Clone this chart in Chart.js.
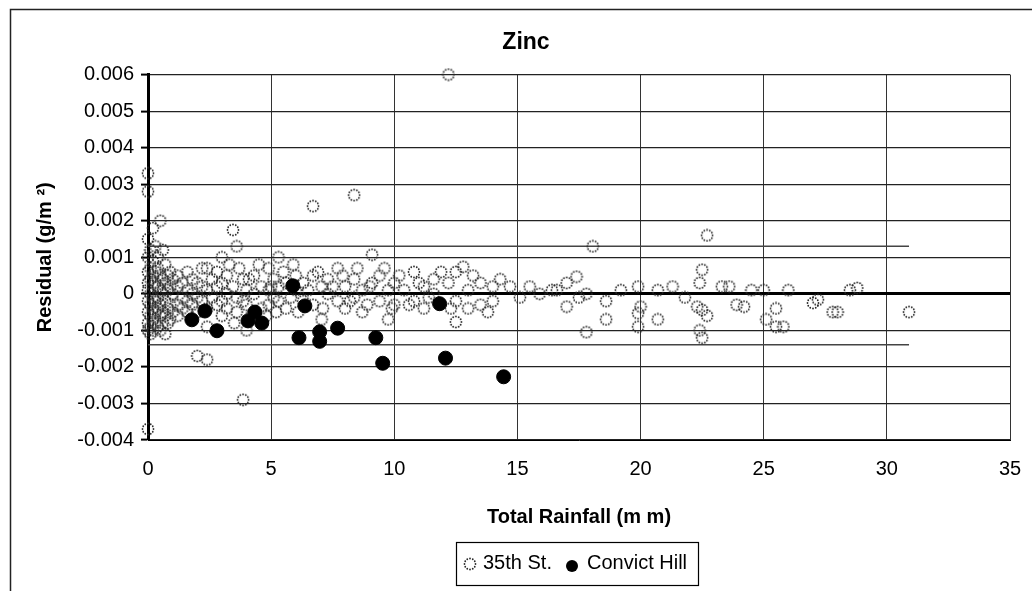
<!DOCTYPE html>
<html>
<head>
<meta charset="utf-8">
<script src="https://cdn.jsdelivr.net/npm/chart.js@4"></script>
<style>
html,body{margin:0;padding:0;background:#fff;}
#wrap{width:1032px;height:591px;position:relative;}
</style>
</head>
<body>
<div id="wrap"><canvas id="myChart" width="1032" height="591"></canvas></div>
<script>
const chartTitle = "Zinc";
const xTitle = "Total Rainfall (m m)";
const yTitle = "Residual (g/m ²)";
const seriesNames = ["35th St.", "Convict Hill"];

// [rainfall mm, residual g/m2]
const st35 = [
 [0,0.0033],[0,0.0028],[0,0.0015],[0,0.001],[0,0.0006],[0,0.0003],[0,0.0001],[0,-0.0002],[0,-0.0005],[0,-0.0008],[0,-0.001],[0,-0.0037],
 [0.1,0.0012],[0.1,0.0007],[0.1,0.0004],[0.1,0],[0.1,-0.0003],[0.1,-0.0006],[0.1,-0.0009],[0.1,-0.0011],
 [0.2,0.0018],[0.2,0.0009],[0.2,0.0005],[0.2,0.0002],[0.2,-0.0001],[0.2,-0.0004],[0.2,-0.0007],[0.2,-0.001],
 [0.3,0.0013],[0.3,0.0006],[0.3,0.0003],[0.3,-0.0002],[0.3,-0.0005],[0.3,-0.0008],
 [0.4,0.001],[0.4,0.0007],[0.4,0.0002],[0.4,-0.0001],[0.4,-0.0004],[0.4,-0.0009],
 [0.5,0.002],[0.5,0.0005],[0.5,0.0001],[0.5,-0.0003],[0.5,-0.0006],[0.5,-0.001],
 [0.6,0.0012],[0.6,0.0004],[0.6,0],[0.6,-0.0005],[0.6,-0.0008],
 [0.7,0.0008],[0.7,0.0003],[0.7,-0.0002],[0.7,-0.0006],[0.7,-0.0011],
 [0.8,0.0005],[0.8,0.0001],[0.8,-0.0004],[0.8,-0.0008],
 [0.9,0.0006],[0.9,0.0002],[0.9,-0.0003],[0.9,-0.0007],
 [1.0,0.0004],[1.0,0],[1.0,-0.0005],
 [1.2,0.0005],[1.2,0.0002],[1.2,-0.0003],[1.2,-0.0006],
 [1.4,0.0003],[1.4,-0.0001],[1.4,-0.0004],
 [1.6,0.0006],[1.6,0.0001],[1.6,-0.0002],[1.6,-0.0005],
 [1.8,0.0004],[1.8,0],[1.8,-0.0003],
 [2.0,-0.0017],[2.0,0.0003],[2.0,-0.0001],[2.0,-0.0005],
 [2.2,0.0007],[2.2,0.0002],[2.2,-0.0002],
 [2.4,-0.0018],[2.4,0.0007],[2.4,0.0001],[2.4,-0.0004],[2.4,-0.0009],
 [2.6,0.0004],[2.6,-0.0001],
 [2.8,0.0006],[2.8,0.0002],[2.8,-0.0003],
 [3.0,0.001],[3.0,0.0003],[3.0,-0.0002],[3.0,-0.0006],
 [3.2,0.0005],[3.2,0],[3.2,-0.0004],[3.3,0.0008],
 [3.45,0.00175],[3.45,0.0002],[3.5,-0.0008],
 [3.6,0.0013],[3.6,-0.0001],[3.6,-0.0005],[3.7,0.0007],
 [3.86,-0.0029],[3.86,0.0004],[3.86,-0.0002],
 [4.0,0.0001],[4.0,-0.0003],[4.0,-0.001],[4.1,0.0004],[4.2,-0.0006],
 [4.3,0.0005],[4.3,0],[4.5,0.0008],
 [4.6,0.0002],[4.6,-0.0004],[4.8,-0.0006],
 [4.9,0.0007],[4.9,0.0001],[4.9,-0.0003],[5.0,0.0002],
 [5.1,0.0004],[5.1,-0.0001],[5.2,-0.0005],
 [5.3,0.001],[5.3,0.0002],[5.3,-0.0002],[5.5,0.0006],
 [5.6,0.0003],[5.6,-0.0004],[5.8,-0.0001],[5.9,0.0008],
 [6.0,0.0005],[6.0,0.0001],[6.1,-0.0005],
 [6.3,0.0003],[6.3,-0.0002],[6.5,0.0001],
 [6.7,0.0024],[6.7,0.0005],[6.7,-0.0003],[6.9,0.0006],
 [7.05,0.0002],[7.05,-0.0007],[7.1,-0.0004],
 [7.3,0.0004],[7.3,0],[7.5,0.0002],
 [7.7,0.0007],[7.7,-0.0002],[7.9,0.0005],
 [8.0,0.0002],[8.0,-0.0004],[8.2,-0.0002],
 [8.37,0.0027],[8.37,0.0004],[8.37,-0.0001],[8.5,0.0007],
 [8.7,0.0001],[8.7,-0.0005],[8.9,-0.0003],[9.0,0.0002],
 [9.1,0.00107],[9.1,0.0003],
 [9.4,0.0005],[9.4,-0.0002],[9.6,0.0007],
 [9.75,0.0001],[9.75,-0.0007],[9.9,-0.0004],
 [10.0,0.0003],[10.0,-0.0003],[10.2,0.0005],
 [10.4,0.0001],[10.6,-0.0003],
 [10.8,0.0006],[10.8,-0.0002],[11.0,0.0003],
 [11.2,0.0002],[11.2,-0.0004],[11.4,-0.0001],
 [11.6,0.0004],[11.6,0],[11.9,0.0006],
 [12.2,0.006],[12.2,0.0003],[12.3,-0.0004],
 [12.5,0.0006],[12.5,-0.0002],[12.5,-0.00077],
 [12.8,0.00074],
 [13.0,0.0001],[13.0,-0.0004],[13.2,0.0005],
 [13.5,0.0003],[13.5,-0.0003],[13.8,-0.0005],
 [14.0,0.0002],[14.0,-0.0002],[14.3,0.0004],
 [14.7,0.0002],[15.1,-0.0001],[15.5,0.0002],[15.9,0],[16.4,0.0001],[16.6,0.0001],
 [17.0,0.0003],[17.0,-0.00035],[17.4,0.00047],[17.5,-0.0001],
 [17.8,0],[17.8,-0.00105],
 [18.06,0.0013],
 [18.6,-0.0002],[18.6,-0.0007],
 [19.2,0.0001],
 [19.9,0.0002],[19.9,-0.00053],[19.9,-0.0009],
 [20.0,-0.00035],
 [20.7,0.0001],[20.7,-0.0007],
 [21.3,0.0002],[21.8,-0.0001],
 [22.3,-0.00035],
 [22.4,0.0003],[22.4,-0.001],
 [22.5,0.00066],[22.5,-0.00044],[22.5,-0.0012],
 [22.7,0.0016],[22.7,-0.0006],
 [23.3,0.0002],[23.6,0.0002],[23.9,-0.0003],[24.2,-0.00035],[24.5,0.0001],
 [25.0,0.0001],[25.1,-0.0007],
 [25.5,-0.0004],[25.5,-0.0009],[25.8,-0.0009],
 [26.0,0.0001],
 [27.0,-0.00025],[27.2,-0.00016],
 [27.8,-0.0005],[28.0,-0.0005],
 [28.5,0.0001],[28.8,0.00016],
 [30.9,-0.0005]
];

const convictHill = [
 [1.78,-0.00071],[2.31,-0.00047],[2.8,-0.00101],[4.06,-0.00074],[4.34,-0.0005],[4.62,-0.0008],
 [5.88,0.00022],[6.13,-0.0012],[6.37,-0.00033],[6.97,-0.00104],[6.97,-0.0013],[7.7,-0.00094],
 [9.25,-0.0012],[9.53,-0.0019],[11.84,-0.00027],[12.08,-0.00176],[14.44,-0.00227]
];

// limit lines
const bandX = [0, 30.9];
const upperBand = 0.0013;
const lowerBand = -0.00139;

const toXY = arr => arr.map(p => ({x: p[0], y: p[1]}));

// dotted open circle used for 35th St.
let dotMarker = document.createElement("canvas");
dotMarker.width = 14;
dotMarker.height = 14;
let mctx = dotMarker.getContext("2d");
mctx.fillStyle = "#2a2a2a";
for (let i = 0; i < 12; i++) {
    let a = i * Math.PI / 6;
    mctx.beginPath();
    mctx.arc(7 + 5.5 * Math.cos(a), 7 + 5.5 * Math.sin(a), 0.9, 0, 2 * Math.PI);
    mctx.fill();
}

const fontName = '"Liberation Sans", Arial, sans-serif';

const frame = {
    id: "frame",
    beforeDraw(chart) {
        const c = chart.ctx;
        c.save();
        c.strokeStyle = "#222";
        c.lineWidth = 1.5;
        c.beginPath();
        c.moveTo(10.5, 591);
        c.lineTo(10.5, 9.5);
        c.lineTo(1032, 9.5);
        c.stroke();
        c.restore();
    },
    afterDraw(chart) {
        // legend box
        const c = chart.ctx;
        c.save();
        c.strokeStyle = "#000";
        c.lineWidth = 1.2;
        c.strokeRect(456.5, 542.5, 242, 43);
        c.drawImage(dotMarker, 470 - 7, 564 - 7);
        c.fillStyle = "#000";
        c.beginPath();
        c.arc(572, 566, 6, 0, 2 * Math.PI);
        c.fill();
        c.font = "20px " + fontName;
        c.textBaseline = "middle";
        c.fillText(seriesNames[0], 483, 563);
        c.fillText(seriesNames[1], 587, 563);
        c.restore();
    }
};

new Chart("myChart", {
    type: "scatter",
    data: {
        datasets: [
            {
                label: seriesNames[1],
                data: toXY(convictHill),
                pointStyle: "circle",
                pointRadius: 7,
                backgroundColor: "#000",
                borderColor: "#000",
                clip: false,
                order: 0
            },
            {
                label: seriesNames[0],
                data: toXY(st35),
                pointStyle: dotMarker,
                pointRadius: 7,
                clip: false,
                order: 1
            },
            {
                label: "upper",
                data: [{x: bandX[0], y: upperBand}, {x: bandX[1], y: upperBand}],
                showLine: true,
                pointRadius: 0,
                borderColor: "#444",
                borderWidth: 1.5,
                order: 2
            },
            {
                label: "lower",
                data: [{x: bandX[0], y: lowerBand}, {x: bandX[1], y: lowerBand}],
                showLine: true,
                pointRadius: 0,
                borderColor: "#444",
                borderWidth: 1.5,
                order: 2
            }
        ]
    },
    options: {
        responsive: false,
        animation: false,
        events: [],
        layout: {padding: {left: 20, right: 0, top: 0, bottom: 0}},
        plugins: {
            legend: {display: false},
            tooltip: {enabled: false},
            title: {
                display: true,
                text: chartTitle,
                color: "#000",
                font: {family: fontName, size: 23, weight: "bold"},
                padding: {top: 29, bottom: 18}
            }
        },
        scales: {
            x: {
                type: "linear",
                min: 0,
                max: 35,
                ticks: {stepSize: 5, color: "#000", font: {family: fontName, size: 20}, padding: 17},
                grid: {color: "#333", lineWidth: 1, drawTicks: false},
                border: {color: "#000", width: 1},
                title: {
                    display: true,
                    text: xTitle,
                    color: "#000",
                    font: {family: fontName, size: 20, weight: "bold"},
                    padding: {top: 0, bottom: 62}
                },
                afterFit: s => { s.height = 151; s.paddingRight = 22; s.paddingLeft = 0; }
            },
            y: {
                min: -0.004,
                max: 0.006,
                ticks: {
                    stepSize: 0.001,
                    color: "#000",
                    font: {family: fontName, size: 20},
                    padding: 7,
                    callback: v => Math.abs(v) < 1e-9 ? "0" : v.toFixed(3)
                },
                grid: {
                    color: ctx => ctx.tick && Math.abs(ctx.tick.value) < 1e-9 ? "#000" : "#222",
                    lineWidth: ctx => ctx.tick && Math.abs(ctx.tick.value) < 1e-9 ? 3 : 1.2,
                    tickLength: 7,
                    tickColor: "#000",
                    tickWidth: 2
                },
                border: {color: "#000", width: 3},
                title: {
                    display: true,
                    text: yTitle,
                    color: "#000",
                    font: {family: fontName, size: 20, weight: "bold"},
                    padding: {top: 13, bottom: 0}
                },
                afterFit: s => { s.width = 128; }
            }
        }
    },
    plugins: [frame]
});
</script>
</body>
</html>
